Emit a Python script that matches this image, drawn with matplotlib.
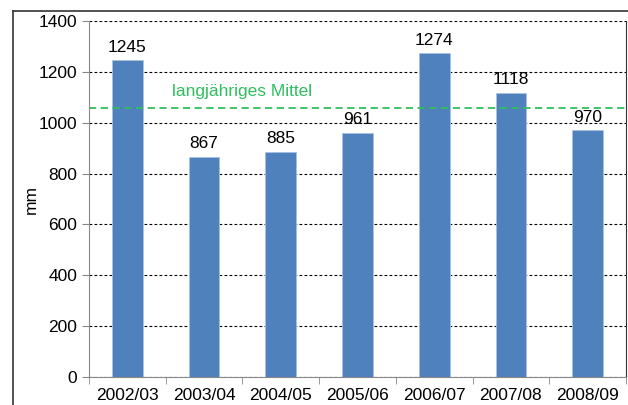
import numpy as np
import matplotlib.pyplot as plt
from matplotlib.lines import Line2D

plt.rcParams['font.family'] = ['Liberation Sans', 'DejaVu Sans']

jahre = ['2002/03', '2003/04', '2004/05', '2005/06', '2006/07', '2007/08', '2008/09']
niederschlag = [1245, 867, 885, 961, 1274, 1118, 970]
mittel = 1060

fig = plt.figure(figsize=(6.28, 4.05), dpi=100)
ax = fig.add_axes([0.1417, 0.069, 0.855, 0.879])

x = np.arange(len(jahre))
ax.set_axisbelow(True)
ax.yaxis.grid(True, color='black', linestyle=(0, (2.5, 2)), linewidth=0.8)
bars = ax.bar(x, niederschlag, width=0.4, color='#4f81bd', edgecolor='#a9c0e0', linewidth=0.6)
for xi, v in zip(x, niederschlag):
    ax.text(xi, v + 22, str(v), ha='center', va='bottom', fontsize=12.5)

ax.axhline(mittel, color='#2fbf5f', linestyle=(0, (4, 2.5)), linewidth=1.3)
ax.text(0.58, mittel + 35, 'langjähriges Mittel', color='#2fbf5f', fontsize=12.5, va='bottom')

ax.set_xlim(-0.5, len(jahre) - 0.5)
ax.set_ylim(0, 1400)
ax.set_yticks(range(0, 1401, 200))
ax.set_xticks(x)
ax.set_xticklabels(jahre, fontsize=12.5)
ax.set_xticks(np.arange(-0.5, len(jahre)), minor=True)
ax.tick_params(axis='x', which='major', length=0, pad=8)
ax.tick_params(axis='x', which='minor', length=5, color='#888888')
ax.tick_params(axis='y', labelsize=12.5, length=5, color='#888888')
ax.set_ylabel('mm', fontsize=12.5)
ax.yaxis.set_label_coords(-0.093, 0.5)

ax.spines['left'].set_color('#888888')
ax.spines['bottom'].set_color('#888888')
ax.spines['top'].set_visible(False)
ax.spines['right'].set_color('#333333')

# Rahmen außen
fig.add_artist(Line2D([13 / 628, 1], [1 - 11 / 405, 1 - 11 / 405], color='#333333', lw=1.2))
fig.add_artist(Line2D([13 / 628, 13 / 628], [0, 1 - 11 / 405], color='#333333', lw=1.2))

fig.savefig('out.png', dpi=100)
